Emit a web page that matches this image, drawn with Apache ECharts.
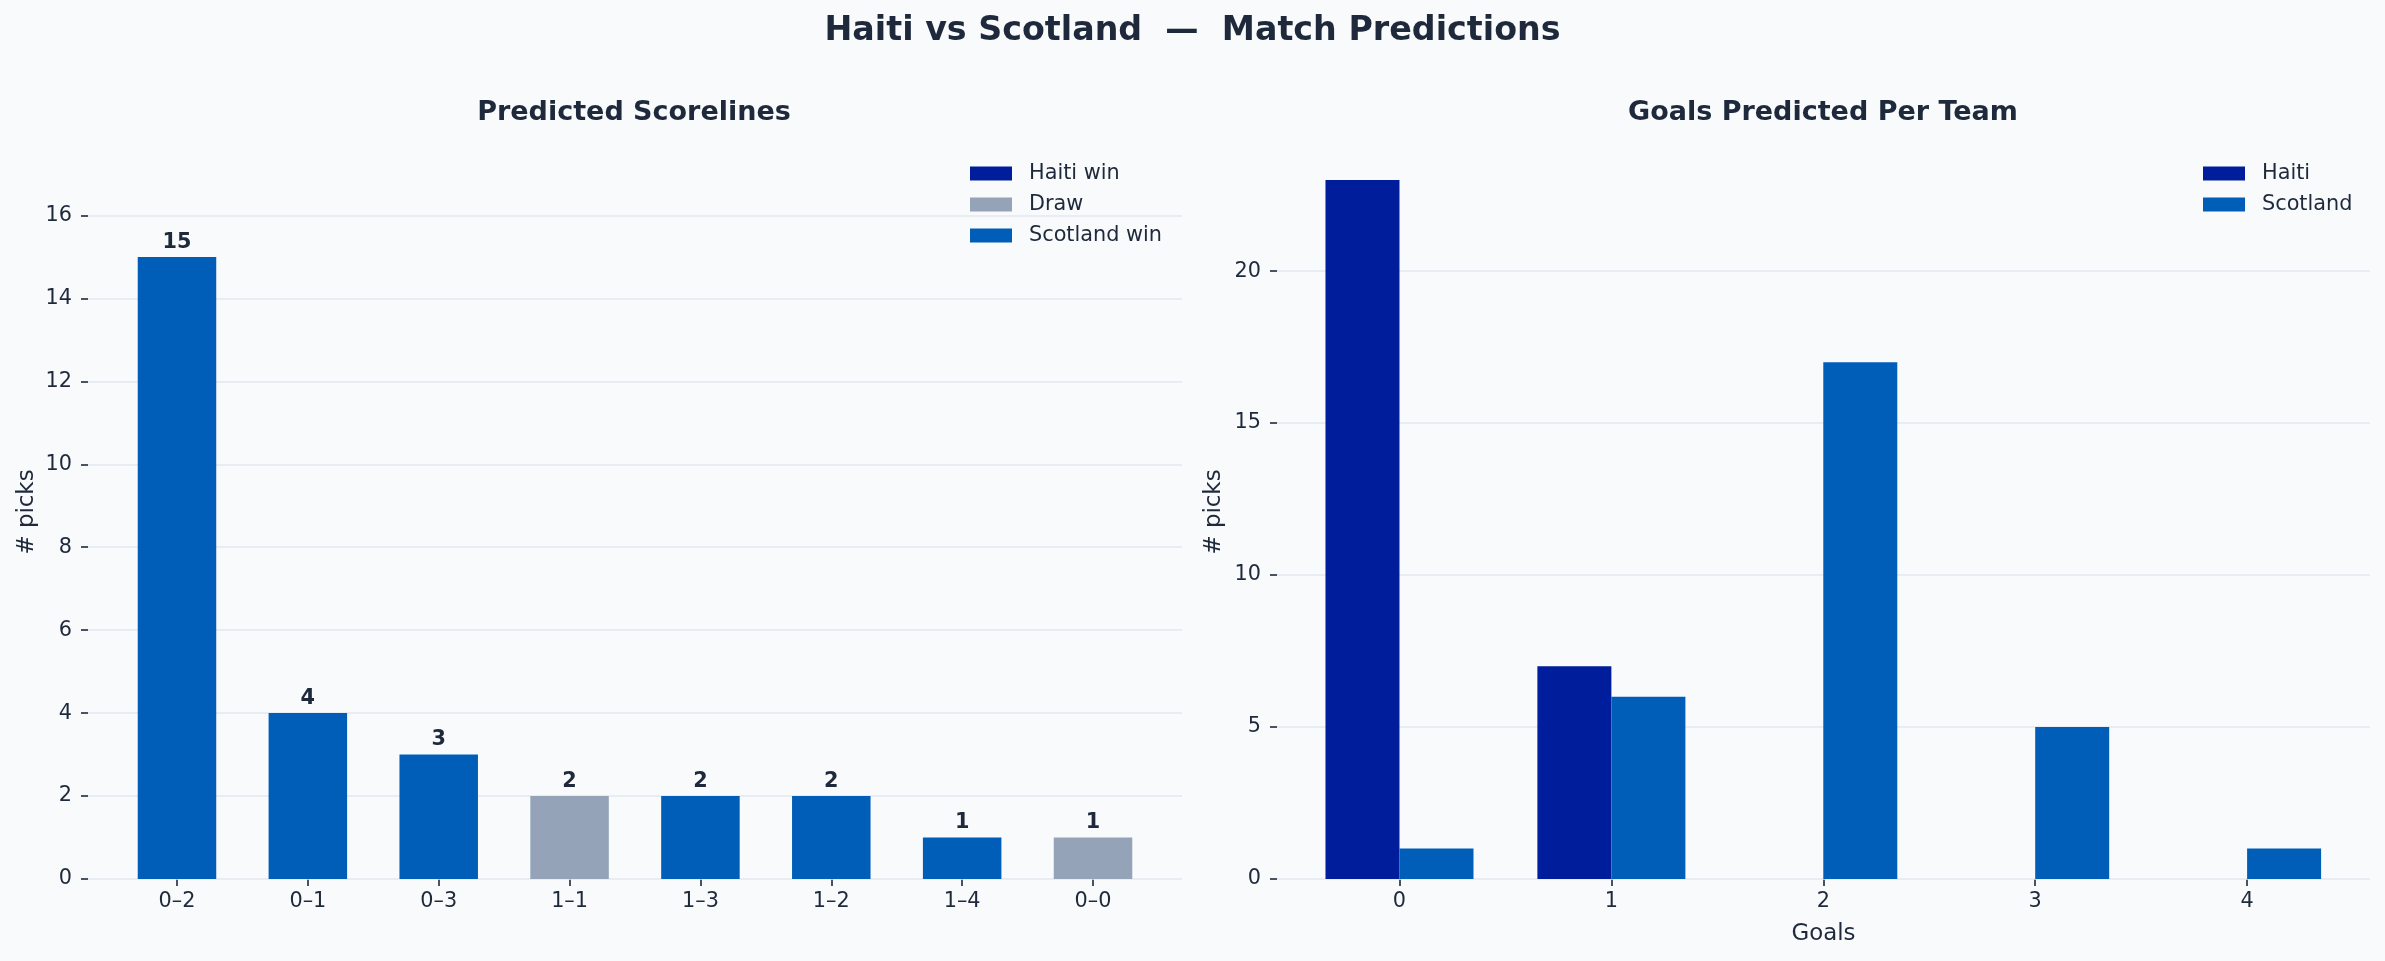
<!DOCTYPE html>
<html><head><meta charset="utf-8">
<script src="https://cdn.jsdelivr.net/npm/echarts@6/dist/echarts.min.js"></script>
<style>html,body{margin:0;background:#f8fafc}#c{width:2385px;height:961px}</style>
</head><body><div id="c"></div>
<script>
// ---- data ----
const scorelines = ['0–2','0–1','0–3','1–1','1–3','1–2','1–4','0–0'];
const scorelineCounts = [15, 4, 3, 2, 2, 2, 1, 1];
const outcomeNames = ['Haiti win', 'Draw', 'Scotland win'];
const goalValues = [0, 1, 2, 3, 4];
const haitiGoals = [23, 7, 0, 0, 0];
const scotlandGoals = [1, 6, 17, 5, 1];
const leftYTicks = [0, 2, 4, 6, 8, 10, 12, 14, 16];
const rightYTicks = [0, 5, 10, 15, 20];

// ---- style ----
const FONT = 'DejaVu Sans';
const TEXT = '#1e293b';
const GRID = '#e2e8f0';
const COLORS = { 'Haiti win': '#001E9C', 'Draw': '#94A3B8', 'Scotland win': '#005EB8', 'Haiti': '#001E9C', 'Scotland': '#005EB8' };

function outcomeOf(s) {
  const [h, a] = s.split('–').map(Number);
  return h > a ? 'Haiti win' : (h === a ? 'Draw' : 'Scotland win');
}
const scoreIdx = scorelines.map((_, i) => i);

function gridLines(ticks) {
  return {
    silent: true, symbol: ['none', 'none'], z: 1,
    label: { show: false },
    lineStyle: { color: GRID, width: 1.5, type: 'solid' },
    emphasis: { disabled: true },
    data: ticks.map(v => ({ yAxis: v }))
  };
}

const axisLabelBase = { color: TEXT, fontFamily: FONT, fontSize: 20.8 };
const tickBase = { show: true, length: 7, lineStyle: { color: '#1e293b', width: 1.6 } };
const hiddenLine = { show: false, onZero: false };
const nameStyle = { color: TEXT, fontFamily: FONT, fontSize: 22.9 };

const leftSeries = outcomeNames.map((name, k) => ({
  type: 'bar', name, xAxisIndex: 0, yAxisIndex: 0, z: 2,
  barWidth: 78.5, barGap: '-100%',
  itemStyle: { color: COLORS[name] },
  data: scorelines.map((s, i) => outcomeOf(s) === name ? [i, scorelineCounts[i]] : null).filter(Boolean),
  label: { show: true, position: 'top', distance: 4, fontWeight: 'bold', fontSize: 20.8, color: TEXT, fontFamily: FONT },
  markLine: k === 2 ? gridLines(leftYTicks) : undefined
}));

const rightSeries = [
  { type: 'bar', name: 'Haiti', xAxisIndex: 1, yAxisIndex: 1, z: 2, barWidth: 74, barGap: '0%',
    itemStyle: { color: COLORS['Haiti'] },
    data: goalValues.map((g, i) => [g, haitiGoals[i]]) },
  { type: 'bar', name: 'Scotland', xAxisIndex: 1, yAxisIndex: 1, z: 2, barWidth: 74, barGap: '0%',
    itemStyle: { color: COLORS['Scotland'] },
    data: goalValues.map((g, i) => [g, scotlandGoals[i]]),
    markLine: gridLines(rightYTicks) }
];

const legendBase = {
  orient: 'vertical', icon: 'rect', itemWidth: 42, itemHeight: 14, itemGap: 10,
  textStyle: { color: TEXT, fontFamily: FONT, fontSize: 20.8, lineHeight: 21, padding: [0, 0, 0, 12] },
  selectedMode: false
};

const option = {
  backgroundColor: '#f8fafc',
  animation: false,
  title: [
    { text: 'Haiti vs Scotland  —  Match Predictions', left: 'center', top: 10,
      textStyle: { fontFamily: FONT, fontSize: 33.3, fontWeight: 'bold', color: TEXT } },
    { text: 'Predicted Scorelines', left: 629, top: 94, textAlign: 'center',
      textStyle: { fontFamily: FONT, fontSize: 27, fontWeight: 'bold', color: TEXT } },
    { text: 'Goals Predicted Per Team', left: 1818, top: 94, textAlign: 'center',
      textStyle: { fontFamily: FONT, fontSize: 27, fontWeight: 'bold', color: TEXT } }
  ],
  legend: [
    Object.assign({}, legendBase, { data: outcomeNames, left: 965, top: 158 }),
    Object.assign({}, legendBase, { data: ['Haiti', 'Scotland'], left: 2198, top: 158 })
  ],
  grid: [
    { left: 88, top: 145, width: 1094, height: 734 },
    { left: 1277, top: 145, width: 1093, height: 734 }
  ],
  xAxis: [
    { type: 'value', gridIndex: 0, min: -0.68, max: 7.68,
      axisLine: hiddenLine, splitLine: { show: false },
      axisTick: Object.assign({}, tickBase, { customValues: scoreIdx }),
      axisLabel: Object.assign({}, axisLabelBase, { margin: 12, customValues: scoreIdx,
        formatter: v => scorelines[Math.round(v)] }) },
    { type: 'value', gridIndex: 1, min: -0.578, max: 4.58,
      name: 'Goals', nameLocation: 'middle', nameGap: 44, nameTextStyle: nameStyle,
      axisLine: hiddenLine, splitLine: { show: false },
      axisTick: Object.assign({}, tickBase, { customValues: goalValues }),
      axisLabel: Object.assign({}, axisLabelBase, { margin: 12, customValues: goalValues,
        formatter: v => String(Math.round(v)) }) }
  ],
  yAxis: [
    { type: 'value', gridIndex: 0, min: 0, max: 17.7,
      name: '# picks', nameLocation: 'middle', nameGap: 49, nameRotate: 90, nameTextStyle: nameStyle,
      axisLine: hiddenLine, splitLine: { show: false },
      axisTick: Object.assign({}, tickBase, { customValues: leftYTicks }),
      axisLabel: Object.assign({}, axisLabelBase, { margin: 16, customValues: leftYTicks }) },
    { type: 'value', gridIndex: 1, min: 0, max: 24.15,
      name: '# picks', nameLocation: 'middle', nameGap: 51, nameRotate: 90, nameTextStyle: nameStyle,
      axisLine: hiddenLine, splitLine: { show: false },
      axisTick: Object.assign({}, tickBase, { customValues: rightYTicks }),
      axisLabel: Object.assign({}, axisLabelBase, { margin: 16, customValues: rightYTicks }) }
  ],
  series: leftSeries.concat(rightSeries)
};

const chart = echarts.init(document.getElementById('c'), null, { renderer: 'canvas' });
chart.setOption(option);
</script>
</body></html>
